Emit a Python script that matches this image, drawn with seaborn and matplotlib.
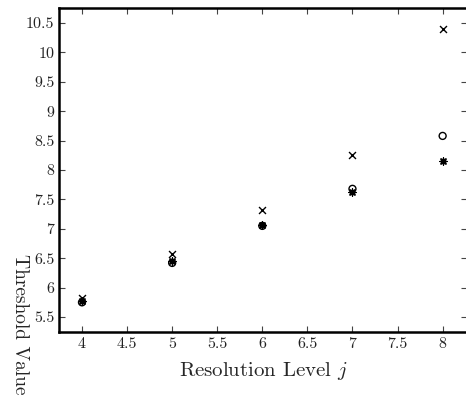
import numpy as np
import pandas as pd
import matplotlib
matplotlib.use('Agg')
import matplotlib.pyplot as plt
import seaborn as sns

levels = [4, 5, 6, 7, 8]
thr_cross = [5.82, 6.57, 7.32, 8.25, 10.40]
thr_circle = [5.75, 6.42, 7.05, 7.68, 8.58]
thr_star = [5.78, 6.45, 7.06, 7.63, 8.15]

xticks = [4, 4.5, 5, 5.5, 6, 6.5, 7, 7.5, 8]
yticks = [5.5, 6, 6.5, 7, 7.5, 8, 8.5, 9, 9.5, 10, 10.5]

sns.set_style('ticks')
plt.rcParams['font.family'] = ['cmr10', 'DejaVu Serif']
plt.rcParams['mathtext.fontset'] = 'cm'
plt.rcParams['axes.formatter.use_mathtext'] = True

fig = plt.figure(figsize=(4.66, 4.05), dpi=100)
ax = fig.add_axes([0.1266, 0.1802, 0.8755, 0.800])

df = pd.DataFrame({'level': levels, 'cross': thr_cross,
                   'circle': thr_circle, 'star': thr_star})

sns.scatterplot(data=df, x='level', y='cross', marker='x', color='k',
                s=25, linewidth=1.0, ax=ax)
sns.scatterplot(data=df, x='level', y='circle', marker='o', facecolor='none',
                edgecolor='k', s=25, linewidth=1.0, ax=ax)
sns.scatterplot(data=df, x='level', y='star', marker=(8, 2, 0), color='k',
                s=25, linewidth=1.0, ax=ax)

ax.set_xlim(3.745, 8.27)
ax.set_ylim(5.245, 10.755)
ax.set_xticks(xticks)
ax.set_xticklabels([f'{t:g}' for t in xticks])
ax.set_yticks(yticks)
ax.set_yticklabels([f'{t:g}' for t in yticks])
ax.tick_params(direction='in', length=4, width=0.8, labelsize=11.5,
               top=True, right=True, colors='#444444', labelcolor='#222222')
for side in ['left', 'bottom', 'top']:
    ax.spines[side].set_linewidth(1.8)
    ax.spines[side].set_color('k')
ax.spines['right'].set_visible(False)

ax.set_xlabel('Resolution Level $j$', fontsize=15)
ax.set_ylabel('Threshold Value', fontsize=14, rotation=270)
ax.yaxis.set_label_coords(-0.118, 0.025)
ax.xaxis.set_label_coords(0.5, -0.085)

fig.savefig('out.png', dpi=100)
